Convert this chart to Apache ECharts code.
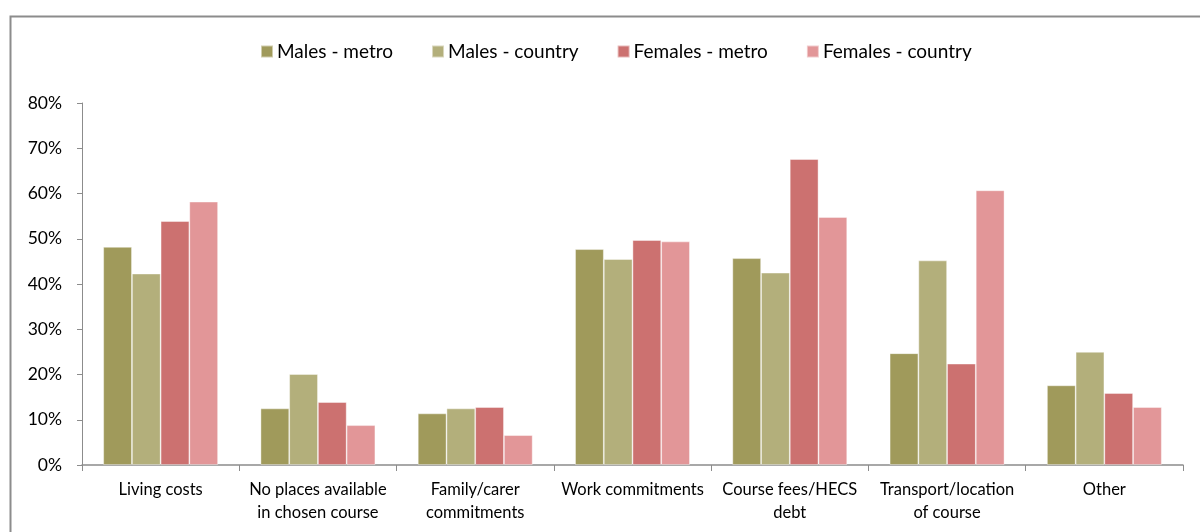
<!DOCTYPE html>
<html><head><meta charset="utf-8">
<script src="https://cdn.jsdelivr.net/npm/echarts@6/dist/echarts.min.js"></script>
<style>html,body{margin:0;padding:0;background:#fff}#c{width:1200px;height:532px}</style>
</head><body><div id="c"></div>
<script>
const categories = ["Living costs", "No places available\nin chosen course", "Family/carer\ncommitments", "Work commitments", "Course fees/HECS\ndebt", "Transport/location\nof course", "Other"];
const seriesNames = ["Males - metro", "Males - country", "Females - metro", "Females - country"];
const malesMetro = [48.2, 12.5, 11.4, 47.7, 45.7, 24.7, 17.6];
const malesCountry = [42.3, 20.1, 12.5, 45.5, 42.5, 45.2, 25.0];
const femalesMetro = [53.9, 13.9, 12.8, 49.7, 67.6, 22.4, 15.9];
const femalesCountry = [58.2, 8.8, 6.6, 49.4, 54.8, 60.7, 12.8];
const yTicks = [0, 10, 20, 30, 40, 50, 60, 70, 80];
const colors = ["#A09A5B", "#B3AF7B", "#CC7170", "#E29698"];
const values = [malesMetro, malesCountry, femalesMetro, femalesCountry];

const chart = echarts.init(document.getElementById('c'), null, {renderer: 'canvas'});
const font = "Lato, 'Open Sans', sans-serif";
chart.setOption({
  animation: false,
  backgroundColor: '#fff',
  graphic: [{
    type: 'rect', left: 8, top: 14, shape: {width: 1200, height: 530},
    style: {fill: 'none', stroke: '#8c8c8c', lineWidth: 2}, silent: true
  }],
  legend: {
    top: 37, left: 255, icon: 'rect', itemWidth: 12, itemHeight: 12, itemGap: 38,
    textStyle: {fontFamily: font, fontSize: 19, color: '#000', padding: [0, 0, 0, -1]},
    data: seriesNames
  },
  grid: {left: 82, right: 17, top: 103, bottom: 67, containLabel: false},
  xAxis: {
    type: 'category', data: categories,
    axisLine: {lineStyle: {color: '#8c8c8c', width: 1.5}},
    axisTick: {show: true, length: 6, lineStyle: {color: '#8c8c8c'}},
    axisLabel: {fontFamily: font, fontSize: 16.5, color: '#000', lineHeight: 23, margin: 13, interval: 0}
  },
  yAxis: {
    type: 'value', min: yTicks[0], max: yTicks[yTicks.length - 1], interval: 10,
    splitLine: {show: false},
    axisLine: {show: true, lineStyle: {color: '#8c8c8c', width: 1}},
    axisTick: {show: true, length: 5, lineStyle: {color: '#8c8c8c'}},
    axisLabel: {fontFamily: font, fontSize: 17.5, color: '#000', margin: 20, formatter: v => v + '%'}
  },
  series: seriesNames.map((n, i) => ({
    name: n, type: 'bar', data: values[i], barGap: '0%', barCategoryGap: '27%',
    itemStyle: {color: colors[i], borderColor: 'rgba(255,255,255,0.5)', borderWidth: 0.8}
  }))
});
</script></body></html>
